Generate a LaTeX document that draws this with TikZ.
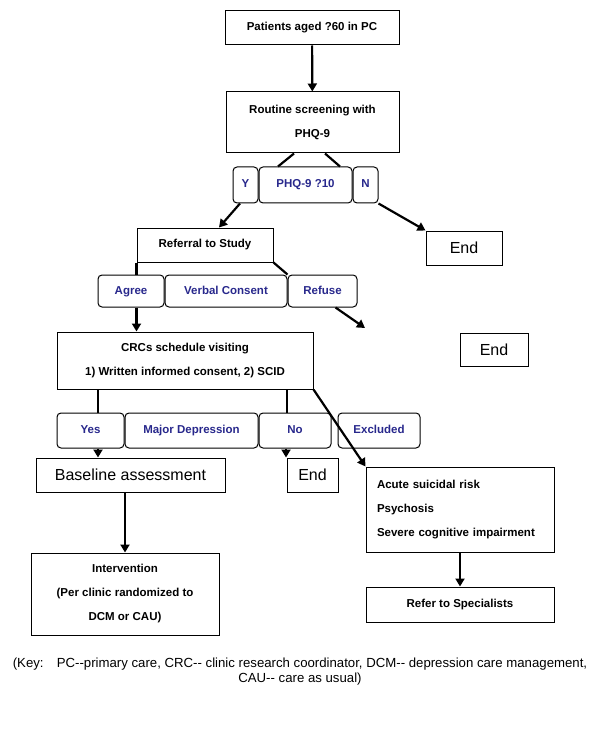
\documentclass[tikz,border=0pt]{standalone}
\usepackage{fontspec}
\setmainfont{Liberation Sans}
\usetikzlibrary{arrows.meta}
\definecolor{decblue}{RGB}{40,40,140}

\begin{document}
\begin{tikzpicture}[x=1pt,y=-1pt,
    box/.style={draw, line width=1pt, align=center, inner sep=0pt, font=\fontsize{11.5}{24}\selectfont\bfseries},
    choice/.style={box, rounded corners=4pt, text=decblue, text height=8.5pt, text depth=2.5pt},
    bigbox/.style={draw, line width=1pt, inner sep=0pt, font=\fontsize{16}{20}\selectfont},
    link/.style={line width=2.2pt},
    flow/.style={link, -{Triangle[width=9pt,length=8pt]}}]
\useasboundingbox (0,0) rectangle (600,743);

% screening
\node[box, minimum width=174pt, minimum height=34pt] (pat) at (312,28) {Patients aged ?60 in PC};
\node[box, minimum width=173pt, minimum height=61pt] (scr) at (312.5,122.5) {Routine screening with\\PHQ-9};
\node[choice, minimum width=25pt, minimum height=36pt] (ydec) at (245.5,185) {Y};
\node[choice, minimum width=93pt, minimum height=36pt] (phq) at (305.5,185) {PHQ-9 ?10};
\node[choice, minimum width=25pt, minimum height=36pt] (ndec) at (365.5,185) {N};
\node[bigbox, minimum width=76pt, minimum height=34pt] (end1) at (464,248) {End};

% referral
\node[box, minimum width=136pt, minimum height=34pt] (ref) at (205,245) {Referral to Study};
\node[choice, minimum width=66pt, minimum height=32pt] (agree) at (131,291) {Agree};
\node[choice, minimum width=122pt, minimum height=32pt] (verbal) at (226,291) {Verbal Consent};
\node[choice, minimum width=69pt, minimum height=32pt] (refuse) at (322.5,291) {Refuse};
\coordinate (refend) at (365,328);
\node[bigbox, minimum width=68pt, minimum height=33pt] (end2) at (494,349.5) {End};

% visit
\node[box, minimum width=256pt, minimum height=57pt] (crc) at (185,360.5) {CRCs schedule visiting\\1) Written informed consent, 2) SCID};
\node[choice, minimum width=67pt, minimum height=35pt] (yes) at (90.5,430.5) {Yes};
\node[choice, minimum width=133pt, minimum height=35pt] (major) at (191.5,430.5) {Major Depression};
\node[choice, minimum width=72pt, minimum height=35pt] (no) at (295,430.5) {No};
\node[choice, minimum width=82pt, minimum height=35pt] (excl) at (379,430.5) {Excluded};

% outcomes
\node[bigbox, minimum width=189pt, minimum height=34pt] (base) at (130.5,475) {Baseline assessment};
\node[bigbox, minimum width=51pt, minimum height=34pt] (end3) at (312.5,475) {End};
\node[box, minimum width=188pt, minimum height=82pt] (interv) at (125,594) {Intervention\\(Per clinic randomized to\\DCM or CAU)};
\node[box, minimum width=188pt, minimum height=85pt, text width=166pt, align=left] (acute) at (460,509.5) {Acute suicidal risk\\Psychosis\\Severe cognitive impairment};
\node[box, minimum width=188pt, minimum height=35pt] (refer) at (460,604.5) {Refer to Specialists};

\node[font=\fontsize{13.2}{15}\selectfont, align=center] (key) at (300,672) {(Key:\quad PC-{}-primary care, CRC-{}- clinic research coordinator, DCM-{}- depression care management,\\CAU-{}- care as usual)};

% connectors
\draw[flow] (pat) -- (scr);
\draw[link] ([xshift=-18.5pt]scr.south) -- ([xshift=-27.5pt]phq.north);
\draw[link] ([xshift=12.5pt]scr.south) -- ([xshift=34.5pt]phq.north);
\draw[flow] ([xshift=-5.5pt]ydec.south) -- ([xshift=14pt]ref.north);
\draw[flow] (ndec.south east) -- (end1.north west);
\draw[link] (ref.south west) -- (ref.south west |- agree.north);
\draw[link] (ref.south east) -- (refuse.north west);
\draw[flow] (ref.south west |- agree.south) -- (ref.south west |- crc.north);
\draw[flow] ([xshift=13pt]refuse.south) -- (refend);
\draw[link] ([xshift=7.5pt]yes.north |- crc.south) -- ([xshift=7.5pt]yes.north);
\draw[link] ([xshift=-8pt]no.north |- crc.south) -- ([xshift=-8pt]no.north);
\draw[flow] (crc.south east) -- (acute.north west);
\draw[flow] ([xshift=7.5pt]yes.south) -- ([xshift=7.5pt]yes.south |- base.north);
\draw[flow] ([xshift=-9pt]no.south) -- ([xshift=-9pt]no.south |- end3.north);
\draw[flow] (interv.north |- base.south) -- (interv.north);
\draw[flow] (acute) -- (refer);
\end{tikzpicture}
\end{document}
